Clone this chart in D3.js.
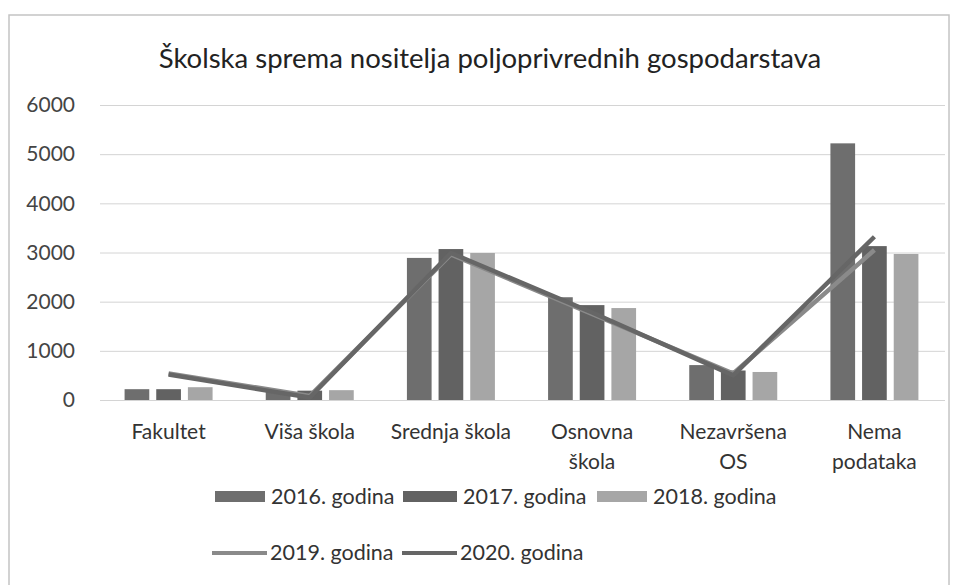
<!DOCTYPE html>
<html>
<head>
<meta charset="utf-8">
<script src="https://cdn.jsdelivr.net/npm/d3@7"></script>
<style>
  body { margin: 0; background: #fff; }
  text { font-family: Lato, "Open Sans", sans-serif; fill: #333; }
</style>
</head>
<body>
<script>
var categories = [["Fakultet"], ["Viša škola"], ["Srednja škola"], ["Osnovna", "škola"], ["Nezavršena", "OS"], ["Nema", "podataka"]];
var barYears = ["2016. godina", "2017. godina", "2018. godina"];
var lineYears = ["2019. godina", "2020. godina"];
var v2016 = [220, 180, 2890, 2090, 710, 5220];
var v2017 = [220, 190, 3070, 1930, 600, 3130];
var v2018 = [260, 200, 2990, 1870, 570, 2970];
var v2019 = [540, 80, 2960, 1750, 540, 3050];
var v2020 = [520, 50, 2990, 1780, 500, 3320];
var yTicks = [0, 1000, 2000, 3000, 4000, 5000, 6000];
var barColors = ["#6e6e6e", "#626262", "#a6a6a6"];
var lineColors = ["#8a8a8a", "#666666"];

var W = 958, H = 585;
var svg = d3.select("body").append("svg").attr("width", W).attr("height", H);

// frame
svg.append("rect").attr("x", 9).attr("y", 15).attr("width", 940).attr("height", 600)
   .attr("fill", "none").attr("stroke", "#c4c4c4").attr("stroke-width", 1.5);

svg.append("text").attr("x", 490).attr("y", 68).attr("text-anchor", "middle")
   .style("font-size", "27.5px").style("fill", "#222")
   .text("Školska sprema nositelja poljoprivrednih gospodarstava");

var x = d3.scaleBand().domain(d3.range(categories.length)).range([98, 945]);
var y = d3.scaleLinear().domain([0, 6000]).range([400, 105]);
var xb = d3.scaleBand().domain(d3.range(3)).range([0, 88]).paddingInner(0.22);

// grid + y labels
var yAxis = d3.axisLeft(y).tickValues(yTicks).tickFormat(d3.format("d")).tickSize(-845).tickPadding(25);
var ga = svg.append("g").attr("transform", "translate(100,0)").call(yAxis);
ga.select(".domain").remove();
ga.selectAll("line").attr("stroke", "#d4d4d4");
ga.selectAll("text").style("font-size", "21px").style("fill", "#444")
  .style("font-family", "Lato, sans-serif");

// bars
var barData = [v2016, v2017, v2018];
barData.forEach(function (vals, s) {
   svg.append("g").selectAll("rect").data(vals).enter().append("rect")
      .attr("x", function (d, i) { return x(i) + x.bandwidth() / 2 - 44 + xb(s); })
      .attr("y", function (d) { return y(d); })
      .attr("width", xb.bandwidth())
      .attr("height", function (d) { return y(0) - y(d); })
      .attr("fill", barColors[s]);
});

// lines
var line = d3.line().x(function (d, i) { return x(i) + x.bandwidth() / 2; }).y(function (d) { return y(d); });
[v2019, v2020].forEach(function (vals, s) {
   svg.append("path").datum(vals).attr("d", line).attr("fill", "none")
      .attr("stroke", lineColors[s]).attr("stroke-width", 4.5).attr("stroke-linejoin", "round");
});

// category labels
categories.forEach(function (c, i) {
   var t = svg.append("text").attr("text-anchor", "middle").style("font-size", "21px").style("fill", "#333");
   c.forEach(function (ln, k) {
      t.append("tspan").attr("x", x(i) + x.bandwidth() / 2).attr("y", 439 + k * 30).text(ln);
   });
});

// legend
var leg1 = [[215, 50, barYears[0]], [403, 54, barYears[1]], [597, 50, barYears[2]]];
leg1.forEach(function (l, i) {
   svg.append("rect").attr("x", l[0]).attr("y", 491).attr("width", l[1]).attr("height", 11).attr("fill", barColors[i]);
   svg.append("text").attr("x", l[0] + l[1] + 6).attr("y", 504).style("font-size", "21.5px").text(l[2]);
});
var leg2 = [[212, lineYears[0]], [402, lineYears[1]]];
leg2.forEach(function (l, i) {
   svg.append("line").attr("x1", l[0]).attr("x2", l[0] + 55).attr("y1", 553).attr("y2", 553)
      .attr("stroke", lineColors[i]).attr("stroke-width", 4);
   svg.append("text").attr("x", l[0] + 58).attr("y", 560).style("font-size", "21.5px").text(l[1]);
});
</script>
</body>
</html>
